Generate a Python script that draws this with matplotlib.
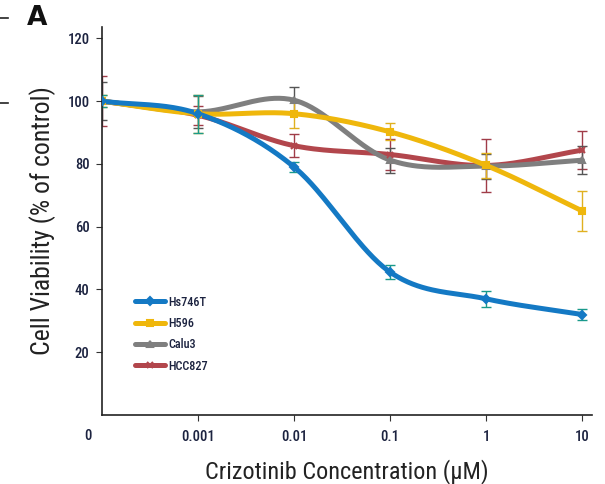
import numpy as np
import matplotlib
matplotlib.use("Agg")
import matplotlib.pyplot as plt
from matplotlib import font_manager as fm

# Data: crizotinib dose-response (cell viability, % of control)
conc_labels = ["0", "0.001", "0.01", "0.1", "1", "10"]
hs746t = [100, 96, 79, 45.5, 37, 32]
hs746t_err = [2, 6, 1.5, 2.2, 2.5, 1.8]
h596 = [100, 96, 96, 90.2, 79.5, 65]
h596_err = [2, 6, 4.5, 2.7, 4, 6.4]
calu3 = [100, 96.6, 100.3, 81.2, 79.3, 81.2]
calu3_err = [6, 5, 4.1, 4, 4, 4.5]
hcc827 = [100, 95.5, 85.8, 83, 79.5, 84.4]
hcc827_err = [8, 3, 3.6, 5, 8.6, 6]

series_names = ["Hs746T", "H596", "Calu3", "HCC827"]

# pick a narrow sans-serif face if one is available
fonts = fm.fontManager.ttflist
names = {f.name for f in fonts}
stretch = "normal"
family = "Liberation Sans"
for cand in ["Liberation Sans Narrow", "Roboto Condensed", "Open Sans Condensed",
             "Noto Sans Condensed", "DejaVu Sans Condensed"]:
    if cand in names:
        family = cand
        break
else:
    for f in fonts:
        if f.name in ("DejaVu Sans", "Noto Sans", "Roboto", "Open Sans") and \
                str(f.stretch) in ("condensed", "semi-condensed", "extra-condensed"):
            family = f.name
            stretch = "condensed"
            break
plt.rcParams["font.family"] = [family, "DejaVu Sans"]
plt.rcParams["font.stretch"] = stretch

colors = ["#1479c4", "#efb70c", "#7f7f7f", "#b2464c"]
err_colors = ["#1a9a8a", "#e0b020", "#555555", "#a03c48"]
markers = ["D", "s", "^", "x"]


def catmull_rom(x, y, n=40):
    x = np.asarray(x, float)
    y = np.asarray(y, float)
    px = np.concatenate([[2 * x[0] - x[1]], x, [2 * x[-1] - x[-2]]])
    py = np.concatenate([[2 * y[0] - y[1]], y, [2 * y[-1] - y[-2]]])
    xs, ys = [], []
    t = np.linspace(0, 1, n)
    for i in range(1, len(px) - 2):
        p0, p1, p2, p3 = (np.array([px[j], py[j]]) for j in range(i - 1, i + 3))
        seg = 0.5 * ((2 * p1)[:, None] + (-p0 + p2)[:, None] * t
                     + (2 * p0 - 5 * p1 + 4 * p2 - p3)[:, None] * t ** 2
                     + (-p0 + 3 * p1 - 3 * p2 + p3)[:, None] * t ** 3)
        xs.append(seg[0])
        ys.append(seg[1])
    return np.concatenate(xs), np.concatenate(ys)


fig = plt.figure(figsize=(6.05, 4.84), dpi=100)
ax = fig.add_axes([0.1686, 0.1426, 0.8099, 0.8014])

xpos = np.arange(-4, 2)  # 0 placed at the axis origin, then log10 spacing

data = [hs746t, h596, calu3, hcc827]
errs = [hs746t_err, h596_err, calu3_err, hcc827_err]
handles = {}
for idx in [3, 2, 1, 0]:
    y = data[idx]
    ax.errorbar(xpos, y, yerr=errs[idx], fmt="none", ecolor=err_colors[idx],
                elinewidth=1.0, capsize=3.5, capthick=1.0, zorder=2)
    sx, sy = catmull_rom(xpos, y)
    ax.plot(sx, sy, color=colors[idx], lw=3.6, solid_capstyle="round", zorder=3)
    ax.plot(xpos, y, linestyle="none", marker=markers[idx], ms=4,
            color=colors[idx], mec=colors[idx], mew=1.5, zorder=4)
    h, = ax.plot([], [], color=colors[idx], lw=3.6, marker=markers[idx], ms=4,
                 mew=1.5, solid_capstyle="round")
    handles[idx] = h

ax.set_xlim(-4, 1.1)
ax.set_ylim(0, 123.6)
ax.set_xticks(xpos[1:])
ax.set_xticklabels(conc_labels[1:])
ax.set_yticks([20, 40, 60, 80, 100, 120])
ax.tick_params(axis="both", direction="out", length=4, width=0.8,
               labelsize=10.5, labelcolor="#1c2340", color="#333333", pad=5)
ax.tick_params(axis="x", pad=7)
for lab in ax.get_xticklabels() + ax.get_yticklabels():
    lab.set_fontweight("medium")
ax.text(-4.15, -0.037, conc_labels[0], transform=ax.get_xaxis_transform(),
        ha="center", va="top", fontsize=10.5, color="#1c2340", fontweight="medium")

for side in ["top", "right"]:
    ax.spines[side].set_visible(False)
for side in ["left", "bottom"]:
    ax.spines[side].set_linewidth(1.2)
    ax.spines[side].set_color("#222222")

ax.set_ylabel("Cell Viability (% of control)", fontsize=18.5, color="#222222",
              labelpad=8)
ax.set_xlabel("Crizotinib Concentration (\u03bcM)", fontsize=17.5, color="#222222",
              labelpad=11)

leg = ax.legend([handles[i] for i in range(4)], series_names,
                loc="upper left", bbox_to_anchor=(0.058, 0.32),
                frameon=False, fontsize=8.8, handlelength=2.4,
                handletextpad=0.3, labelspacing=0.68, borderaxespad=0)
for t in leg.get_texts():
    t.set_color("#1c2340")
    t.set_fontweight("medium")

fig.text(0.062, 0.962, "A", fontsize=19, fontweight="bold", color="#111111",
         ha="center", va="center", family="DejaVu Sans")
fig.add_artist(plt.Line2D([0.0, 0.014], [0.963, 0.963], color="#222222", lw=1.2))
fig.add_artist(plt.Line2D([0.0, 0.014], [0.787, 0.787], color="#222222", lw=1.2))

fig.savefig("out.png", dpi=100)
